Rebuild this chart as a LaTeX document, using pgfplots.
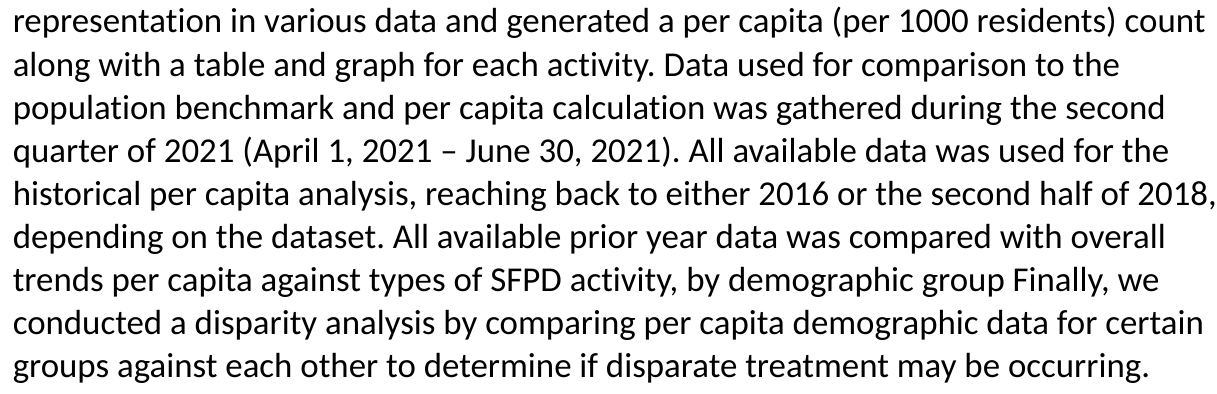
\documentclass[border=0pt]{standalone}
\usepackage{pgfplots}
\pgfplotsset{compat=1.18}
\usepackage{fontspec}
\setmainfont[Ligatures={NoCommon,NoContextual},RawFeature={-liga;-clig;-dlig}]{Carlito}
\frenchspacing
\tikzset{txt/.style={anchor=base west, inner sep=0pt, font=\fontsize{36bp}{44bp}\selectfont}}
\begin{document}
\begin{tikzpicture}
\begin{axis}[
  scale only axis, width=1217bp, height=406bp,
  xmin=0, xmax=1217, ymin=0, ymax=406,
  hide axis, clip=false,
]
\addplot[draw=none, forget plot] coordinates {(0,0) (1217,406)};
\node[txt] at (axis cs:13,372) {representation in various data and generated a per capita (per 1000 residents) count};
\node[txt] at (axis cs:13,327.5) {along with a table and graph for each activity. Data used for comparison to the};
\node[txt] at (axis cs:13,283) {population benchmark and per capita calculation was gathered during the second};
\node[txt] at (axis cs:13,238.5) {quarter of 2021 (April 1, 2021 -- June 30, 2021). All available data was used for the};
\node[txt] at (axis cs:13,194) {historical per capita analysis, reaching back to either 2016 or the second half of 2018,};
\node[txt] at (axis cs:13,149.5) {depending on the dataset. All available prior year data was compared with overall};
\node[txt] at (axis cs:13,105) {trends per capita against types of SFPD activity, by demographic group Finally, we};
\node[txt] at (axis cs:13,60.5) {conducted a disparity analysis by comparing per capita demographic data for certain};
\node[txt] at (axis cs:13,16) {groups against each other to determine if disparate treatment may be occurring.};
\end{axis}
\end{tikzpicture}
\end{document}
